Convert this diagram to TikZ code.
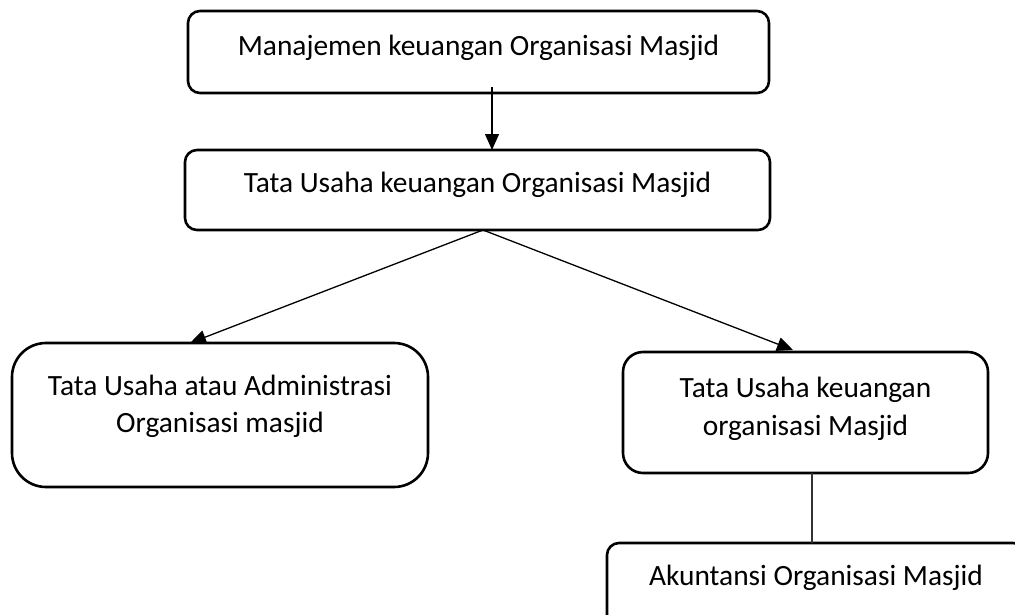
\documentclass[tikz,border=0pt]{standalone}
\usepackage{fontspec}
\setmainfont{Carlito}
\usetikzlibrary{arrows.meta}
\begin{document}
\begin{tikzpicture}[x=1pt,y=-1pt,
  box/.style={draw=black, line width=2.6pt, inner sep=0pt, outer sep=0pt},
  lbl/.style={anchor=base, inner sep=0pt, font=\fontsize{29.4}{37}\selectfont, align=center},
  arr/.style={draw=black, line width=1.3pt, -{Triangle[width=14pt,length=16pt]}},
  plain/.style={draw=black!80, line width=1.1pt}]
\useasboundingbox (0,0) rectangle (1015,614);
% boxes
\node[box, rounded corners=12pt, minimum width=581pt, minimum height=82pt] (b1) at (478.5,52) {};
\node[box, rounded corners=12pt, minimum width=585pt, minimum height=80pt] (b2) at (477.5,190) {};
\node[box, rounded corners=34pt, minimum width=416pt, minimum height=144pt] (b3) at (220,415) {};
\node[box, rounded corners=20pt, minimum width=365pt, minimum height=121pt] (b4) at (805.5,412.5) {};
\node[box, rounded corners=12pt, minimum width=418pt, minimum height=100pt] (b5) at (816,593) {};
% texts
\node[lbl] (t1) at (478.5,55) {Manajemen keuangan Organisasi Masjid};
\node[lbl] (t2) at (477.5,192) {Tata Usaha keuangan Organisasi Masjid};
\node[lbl] (t3a) at (220,395) {Tata Usaha atau Administrasi};
\node[lbl] (t3b) at (220,432) {Organisasi masjid};
\node[lbl] (t4a) at (805.5,397) {Tata Usaha keuangan};
\node[lbl] (t4b) at (805.5,435) {organisasi Masjid};
\node[lbl] (t5) at (816,585) {Akuntansi Organisasi Masjid};
% connectors
\draw[arr] ([xshift=13.5pt,yshift=6pt]b1.south) -- ([xshift=14.5pt]b2.north);
\draw[arr] ([xshift=5.5pt]b2.south) -- ([xshift=-30pt]b3.north);
\draw[arr] ([xshift=5.5pt]b2.south) -- ([xshift=-12.5pt,yshift=2pt]b4.north);
\draw[plain] ([xshift=6.5pt]b4.south) -- ([xshift=-4pt]b5.north);
\end{tikzpicture}
\end{document}
